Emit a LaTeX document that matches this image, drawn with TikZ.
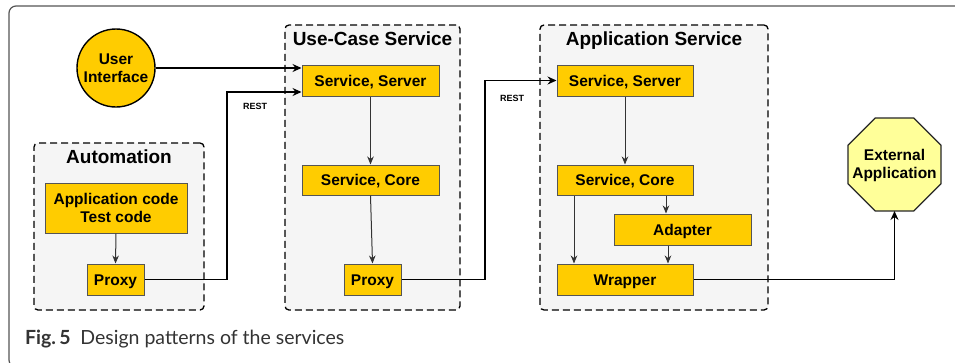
\documentclass[tikz,border=0pt]{standalone}
\usepackage{fontspec}
\setmainfont{Liberation Sans}
\newfontfamily\capfont{Lato}
\usetikzlibrary{arrows.meta,shapes.geometric,calc}
\definecolor{boxfill}{HTML}{FFCC00}
\definecolor{boxline}{HTML}{555555}
\definecolor{contfill}{HTML}{F5F5F5}
\definecolor{extfill}{HTML}{FFFF99}
\definecolor{framecol}{HTML}{555555}
\definecolor{captext}{HTML}{333333}
\begin{document}
\begin{tikzpicture}[x=1pt,y=-1pt,
  comp/.style={draw=boxline,line width=1pt,fill=boxfill,inner sep=0pt,font=\fontsize{15.5}{18}\selectfont\bfseries,align=center},
  oneline/.style={text height=11.1pt,text depth=0pt},
  cont/.style={draw=black,line width=1.3pt,dash pattern=on 7pt off 4pt,fill=contfill,rounded corners=4pt,inner sep=0pt},
  ctitle/.style={font=\fontsize{19}{22}\selectfont\bfseries,text height=13.6pt,text depth=0pt,inner sep=0pt},
  conn/.style={draw=black,line width=1.4pt,-{Stealth[length=9pt,width=8pt,inset=3pt]}},
  inner/.style={draw=black!80,line width=1pt,-{Stealth[length=8pt,width=6.5pt,inset=2.5pt]}},
  lbl/.style={font=\fontsize{9}{10}\selectfont\bfseries}]
\useasboundingbox (0,0) rectangle (955,362);
\fill[white] (0,0) rectangle (955,362);
\draw[framecol,line width=1.2pt,rounded corners=7pt] (9,6) rectangle (990,367);
% containers
\node[cont,minimum width=170,minimum height=167] (autobox) at (119,226.5) {};
\node[cont,minimum width=175,minimum height=285] (ucbox) at (372.5,167.5) {};
\node[cont,minimum width=228,minimum height=285] (asbox) at (654,167.5) {};
\node[ctitle] (autotitle) at (119,156.7) {Automation};
\node[ctitle] (uctitle) at (372.5,38.4) {Use-Case Service};
\node[ctitle] (astitle) at (654,38.4) {Application Service};
% user interface
\node[circle,draw=black,line width=1.4pt,fill=boxfill,minimum size=78,inner sep=0pt,font=\fontsize{15.5}{18}\selectfont\bfseries,align=center] (ui) at (116,68) {User\\Interface};
% automation
\node[comp,minimum width=142,minimum height=50] (appcode) at (116,208) {Application code\\Test code};
\node[comp,oneline,minimum width=57,minimum height=31] (autoproxy) at (115.5,279.5) {Proxy};
% use-case service
\node[comp,oneline,minimum width=137,minimum height=31] (ucss) at (370.5,80.5) {Service, Server};
\node[comp,oneline,minimum width=137,minimum height=30] (uccore) at (370.5,180) {Service, Core};
\node[comp,oneline,minimum width=57,minimum height=31] (ucproxy) at (372.5,279.5) {Proxy};
% application service
\node[comp,oneline,minimum width=136,minimum height=31] (asss) at (625,80.5) {Service, Server};
\node[comp,oneline,minimum width=136,minimum height=30] (ascore) at (625,180) {Service, Core};
\node[comp,oneline,minimum width=137,minimum height=31] (adapter) at (682.5,229.5) {Adapter};
\node[comp,oneline,minimum width=136,minimum height=31] (wrapper) at (625,279.5) {Wrapper};
% external
\node[regular polygon,regular polygon sides=8,draw=black!85,line width=1.2pt,fill=extfill,minimum size=100.6,inner sep=0pt,outer sep=0pt] (ext) at (894.5,164.5) {};
\node[font=\fontsize{15.5}{18}\selectfont\bfseries,align=center,inner sep=0pt] (exttext) at (894.5,165) {External\\Application};
% connectors
\coordinate (r1) at (227,92);
\coordinate (r2) at (485,80.5);
\draw[conn] (ui.east) -- (ui.east -| ucss.west);
\draw[conn] (autoproxy.east) -| (r1) -- (r1 -| ucss.west);
\draw[conn] (ucproxy.east) -| (r2) -- (asss.west);
\draw[conn] (wrapper.east) -| (ext.south);
\node[lbl] (rest1) at (255,106) {REST};
\node[lbl] (rest2) at (512,98) {REST};
\draw[inner] (appcode.south) -- (autoproxy.north);
\draw[inner] (ucss.south) -- (uccore.north);
\draw[inner] (uccore.south) -- (ucproxy.north);
\draw[inner] (asss.south) -- (ascore.north);
\draw[inner] ([xshift=-51pt]ascore.south) -- ([xshift=-51pt]wrapper.north);
\draw[inner] ([xshift=41pt]ascore.south) -- ([xshift=-16.5pt]adapter.north);
\draw[inner] ([xshift=-14.5pt]adapter.south) -- ([xshift=43pt]wrapper.north);
% caption
\node[anchor=base west,inner sep=0pt,text=captext,font=\capfont\fontsize{19.5}{22}\selectfont] (caption) at (25,344) {\textbf{Fig.\,5}\hspace{0.5em}Design patterns of the services};
\end{tikzpicture}
\end{document}
